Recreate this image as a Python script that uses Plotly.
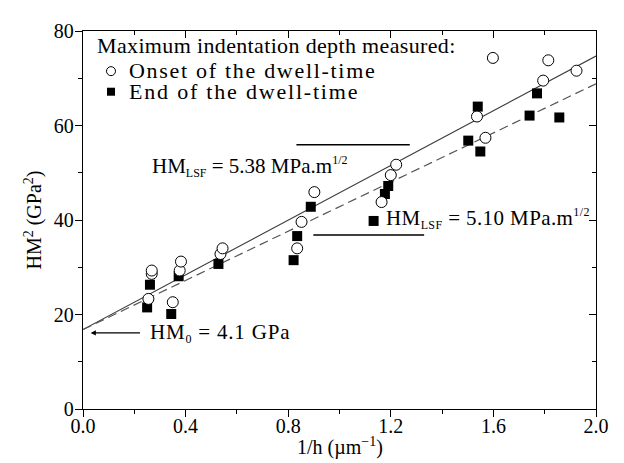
import plotly.graph_objects as go

# ---- data ----
onset_x = [0.255, 0.268, 0.268, 0.350, 0.377, 0.382, 0.536, 0.544, 0.835, 0.852,
           0.902, 1.164, 1.200, 1.221, 1.536, 1.569, 1.598, 1.794, 1.814, 1.924]
onset_y = [23.3, 28.6, 29.3, 22.6, 29.3, 31.2, 32.8, 34.0, 34.0, 39.6,
           45.9, 43.8, 49.5, 51.7, 61.9, 57.4, 74.3, 69.5, 73.8, 71.6]
end_x = [0.250, 0.261, 0.344, 0.373, 0.528, 0.821, 0.835, 0.888, 1.133,
         1.177, 1.190, 1.502, 1.539, 1.549, 1.741, 1.770, 1.857]
end_y = [21.5, 26.3, 20.1, 28.1, 30.7, 31.5, 36.6, 42.8, 39.8,
         45.5, 47.2, 56.8, 64.0, 54.5, 62.1, 66.8, 61.7]

hm0 = 4.1                 # GPa
hm_lsf_onset = 5.38       # MPa.m^1/2
hm_lsf_end = 5.10
fit_x = [0.0, 2.0]

x_ticks = [0.0, 0.4, 0.8, 1.2, 1.6, 2.0]
y_ticks = [0, 20, 40, 60, 80]

legend_title = "Maximum indentation depth measured:"
onset_name = "Onset of the dwell-time"
end_name = "End of the dwell-time"

FONT = "Liberation Serif, Times New Roman, serif"

fit_onset = [hm0 ** 2 + hm_lsf_onset ** 2 * x for x in fit_x]
fit_end = [hm0 ** 2 + hm_lsf_end ** 2 * x for x in fit_x]

fig = go.Figure()
fig.add_trace(go.Scatter(x=fit_x, y=fit_onset, mode="lines", showlegend=False,
                         line=dict(color="#3a3a3a", width=1.1)))
fig.add_trace(go.Scatter(x=fit_x, y=fit_end, mode="lines", showlegend=False,
                         line=dict(color="#555555", width=1.2, dash="9px,5px")))
fig.add_trace(go.Scatter(x=end_x, y=end_y, mode="markers", name=end_name, showlegend=False,
                         marker=dict(symbol="square", size=10, color="black",
                                     line=dict(width=0))))
fig.add_trace(go.Scatter(x=onset_x, y=onset_y, mode="markers", name=onset_name, showlegend=False,
                         marker=dict(symbol="circle", size=11, color="white",
                                     line=dict(width=1, color="black"))))
# dummy trace for mirrored (inside) ticks on top/right
fig.add_trace(go.Scatter(x=[None], y=[None], xaxis="x2", yaxis="y2", showlegend=False))

# the page body has an 8px margin: the figure starts at (8, 8) in the window
OFF = 8
W, H = 624 - OFF, 463 - OFF
L, T = 83 - OFF, 23 - OFF
R, B = 28, 54
PW, PH = W - L - R, H - T - B


def px(xp):
    """window pixel x -> paper x"""
    return (xp - OFF - L) / PW


def py(yp):
    """window pixel y -> paper y"""
    return (H - B - (yp - OFF)) / PH


def sp(s, ls):
    return f"<span style='letter-spacing:{ls}px'>{s}</span>"


# ---- legend (text + symbols) ----
fig.add_annotation(x=px(95), y=py(38), xref="paper", yref="paper", xanchor="left", yanchor="middle",
                   text=sp(legend_title, 0.35), showarrow=False,
                   font=dict(family=FONT, size=22, color="black"))
fig.add_annotation(x=px(127), y=py(63), xref="paper", yref="paper", xanchor="left", yanchor="middle",
                   text=sp(onset_name, 1.7), showarrow=False,
                   font=dict(family=FONT, size=22, color="black"))
fig.add_annotation(x=px(127), y=py(85), xref="paper", yref="paper", xanchor="left", yanchor="middle",
                   text=sp(end_name, 1.8), showarrow=False,
                   font=dict(family=FONT, size=22, color="black"))
fig.add_shape(type="circle", xref="paper", yref="paper", xsizemode="pixel", ysizemode="pixel",
              xanchor=px(111), yanchor=py(64), x0=-4.5, x1=4.5, y0=-4.5, y1=4.5,
              line=dict(color="black", width=1), fillcolor="white")
fig.add_shape(type="rect", xref="paper", yref="paper", xsizemode="pixel", ysizemode="pixel",
              xanchor=px(111), yanchor=py(85), x0=-4, x1=4, y0=-4, y1=4,
              line=dict(width=0), fillcolor="black")

# ---- fit annotations ----
ann_font = dict(family=FONT, size=21, color="black")
sub = "<sub><span style='font-size:12px'>LSF</span></sub>"
sup = "<sup><span style='font-size:12px'>1/2</span></sup>"
fig.add_annotation(x=0.26, y=51.4, xref="x", yref="y", xanchor="left", yanchor="middle",
                   text=f"HM{sub} = 5.38 MPa.m{sup}", showarrow=False, font=ann_font)
fig.add_annotation(x=1.175, y=40.3, xref="x", yref="y", xanchor="left", yanchor="middle",
                   text=sp(f"HM{sub} = 5.10 MPa.m{sup}", 0.4), showarrow=False, font=ann_font)
fig.add_annotation(x=0.255, y=16.1, xref="x", yref="y", xanchor="left", yanchor="middle",
                   text=sp("HM<sub><span style='font-size:12px'>0</span></sub> = 4.1 GPa", 0.8),
                   showarrow=False, font=ann_font)
fig.add_annotation(x=0.03, y=16.1, ax=0.228, ay=16.1, xref="x", yref="y", axref="x", ayref="y",
                   text="", showarrow=True, arrowhead=2, arrowsize=0.8, arrowwidth=1.3,
                   arrowcolor="black")

fig.add_shape(type="line", x0=0.832, x1=1.274, y0=55.9, y1=55.9, xref="x", yref="y",
              line=dict(color="black", width=1.5))
fig.add_shape(type="line", x0=0.898, x1=1.330, y0=36.8, y1=36.8, xref="x", yref="y",
              line=dict(color="black", width=1.5))

# ---- x axis title as annotation for exact placement ----
fig.add_annotation(x=0.5, y=0, xref="paper", yref="paper", xanchor="center", yanchor="middle",
                   yshift=-37, text="1/h (µm<sup>−1</sup>)", showarrow=False,
                   font=dict(family=FONT, size=20, color="black"))

axis_common = dict(showline=True, linecolor="black", linewidth=1.3, showgrid=False,
                   zeroline=False, ticks="outside", ticklen=7, tickwidth=1.2, tickcolor="black",
                   tickfont=dict(family=FONT, size=20, color="black"))

fig.update_layout(
    width=W, height=H,
    margin=dict(l=L, r=R, t=T, b=B),
    paper_bgcolor="white", plot_bgcolor="white",
    font=dict(family=FONT, size=20, color="black"),
    showlegend=False,
    xaxis=dict(range=[0, 2.0], tickvals=x_ticks, ticktext=[f"{v:.1f}" for v in x_ticks],
               ticklabelstandoff=-8,
               minor=dict(dtick=0.2, ticks="outside", ticklen=4, tickcolor="black", tickwidth=1.2),
               **axis_common),
    yaxis=dict(range=[0, 80], tickvals=y_ticks, ticklabelstandoff=-3,
               minor=dict(dtick=10, ticks="outside", ticklen=4, tickcolor="black", tickwidth=1.2),
               title=dict(text="HM<sup>2</sup> (GPa<sup>2</sup>)", font=dict(family=FONT, size=20),
                          standoff=6),
               **axis_common),
    xaxis2=dict(overlaying="x", side="top", range=[0, 2.0], tickvals=x_ticks, showticklabels=False,
                showline=True, linecolor="black", linewidth=1.3, showgrid=False, zeroline=False,
                ticks="inside", ticklen=7, tickwidth=1.2, tickcolor="black",
                minor=dict(dtick=0.2, ticks="inside", ticklen=4, tickcolor="black", tickwidth=1.2)),
    yaxis2=dict(overlaying="y", side="right", range=[0, 80], tickvals=y_ticks, showticklabels=False,
                showline=True, linecolor="black", linewidth=1.3, showgrid=False, zeroline=False,
                ticks="inside", ticklen=7, tickwidth=1.2, tickcolor="black",
                minor=dict(dtick=10, ticks="inside", ticklen=4, tickcolor="black", tickwidth=1.2)),
)

fig.write_html("out.html")
